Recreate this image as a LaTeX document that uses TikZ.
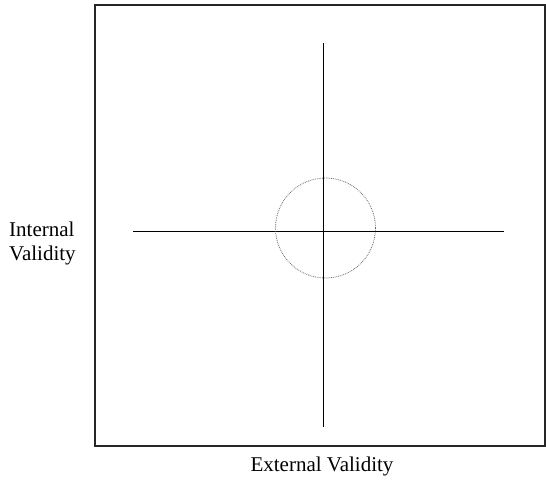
\documentclass[tikz,border=0pt]{standalone}
\usepackage{fontspec}
\setmainfont{Liberation Serif}
\begin{document}
\begin{tikzpicture}[x=1pt,y=-1pt,
  frame/.style={draw=black!85,line width=1.1pt},
  axis/.style={draw=black,line width=1pt},
  ring/.style={draw=black!60,densely dotted,line width=0.8pt},
  lbl/.style={font=\fontsize{21}{24}\selectfont,align=left,inner sep=0pt}]
\useasboundingbox (0,0) rectangle (546,482);
\coordinate (bl) at (95,446);
\coordinate (tr) at (545,5);
\draw[frame] (bl) rectangle (tr);
\coordinate (vt) at (323,43);
\coordinate (vb) at (323,427);
\coordinate (hl) at (133,231);
\coordinate (hr) at (504,231);
\draw[axis] (vt) -- (vb);
\draw[axis] (hl) -- (hr);
\node[ring,circle,minimum size=100pt,inner sep=0pt] (c) at (325.5,228) {};
\node[lbl,anchor=west] (iv) at (9,243) {Internal\\Validity};
\node[lbl] (ev) at (322,466) {External Validity};
\end{tikzpicture}
\end{document}
